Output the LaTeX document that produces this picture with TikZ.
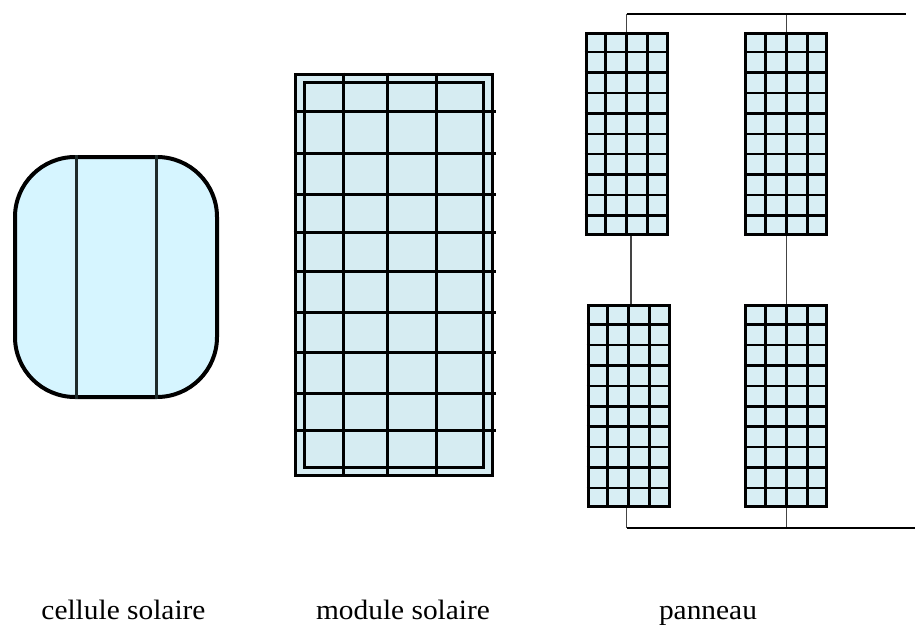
\documentclass[tikz,border=0pt]{standalone}
\usepackage{fontspec}
\usetikzlibrary{calc}
\newfontfamily\lblfont[FakeStretch=1.05]{Liberation Serif}
\definecolor{cellblue}{HTML}{D6F5FF}
\definecolor{modblue}{HTML}{D6ECF2}
\definecolor{panelblue}{HTML}{D8EEF4}
\definecolor{wiregray}{HTML}{444444}
\definecolor{celldiv}{HTML}{1E2A2A}
\begin{document}
\begin{tikzpicture}[x=1pt,y=-1pt,
  cellshape/.style={draw=black,fill=cellblue,line width=4pt,rounded corners=60pt,
    minimum width=202pt,minimum height=240pt,inner sep=0pt},
  cellline/.style={draw=celldiv,line width=2.8pt},
  modshape/.style={draw=black,fill=modblue,line width=3pt,
    minimum width=197pt,minimum height=401pt,inner sep=0pt},
  modline/.style={draw=black,line width=3pt},
  panelmod/.style={draw=black,fill=panelblue,line width=3pt,
    minimum width=81pt,minimum height=201pt,inner sep=0pt},
  gridline/.style={draw=black,line width=2.6pt},
  bus/.style={draw=black,line width=2pt},
  drop/.style={draw=wiregray,line width=1.5pt},
  lbl/.style={font=\lblfont\fontsize{28}{32}\selectfont,anchor=base,inner sep=0pt}]
\useasboundingbox (0,0) rectangle (915,626);

% --- single cell ---
\node[cellshape] (cell) at (116,277) {};
\foreach \f in {0.307,0.698}
  \draw[cellline] ($(cell.north west)!\f!(cell.north east)$) -- ($(cell.south west)!\f!(cell.south east)$);

% --- module: frame, inner frame and cell grid ---
\node[modshape] (mod) at (393.5,274.5) {};
\draw[modline] ($(mod.north west)+(10.5,10)$) rectangle ($(mod.south east)+(-10.5,-9)$);
\foreach \dx in {50,94.3,142.7}
  \draw[modline] ($(mod.north west)+(\dx,0)$) -- ($(mod.south west)+(\dx,0)$);
\foreach \dy in {39.3,81,122,160,199.3,240.3,280.3,321,358.3}
  \draw[modline] ($(mod.north west)+(0,\dy)$) -- ($(mod.north east)+(2,\dy)$);

% --- panel: four modules ---
\node[panelmod] (tl) at (626.5,133.8) {};
\node[panelmod] (tr) at (786.4,133.8) {};
\node[panelmod] (bl) at (628.6,406.2) {};
\node[panelmod] (br) at (786.4,406.2) {};
\foreach \m in {tl,tr,bl,br} {
  \foreach \i in {1,2,3}
    \draw[gridline] ($(\m.north west)!\i/4!(\m.north east)$) -- ($(\m.south west)!\i/4!(\m.south east)$);
  \foreach \j in {1,...,9}
    \draw[gridline] ($(\m.north west)!\j/10!(\m.south west)$) -- ($(\m.north east)!\j/10!(\m.south east)$);
}

% --- wiring ---
\coordinate (topend) at (906,14);
\coordinate (botend) at (915,528);
\draw[drop] (tl.north) -- (tl.north |- topend);
\draw[drop] (tr.north) -- (tr.north |- topend);
\draw[bus] (tl.north |- topend) -- (topend);
\draw[drop] ([xshift=4.5pt]tl.south) -- ([xshift=4.5pt]tl.south |- bl.north);
\draw[drop] (tr.south) -- (br.north);
\draw[drop] ([xshift=-2pt]bl.south) -- ([xshift=-2pt]bl.south |- botend);
\draw[drop] (br.south) -- (br.south |- botend);
\draw[bus] ([xshift=-2pt]bl.south |- botend) -- (botend);

% --- captions ---
\node[lbl] (tcell) at (123.5,619.5) {cellule solaire};
\node[lbl] (tmod) at (403,619.5) {module solaire};
\node[lbl] (tpan) at (708,619.5) {panneau};
\end{tikzpicture}
\end{document}
